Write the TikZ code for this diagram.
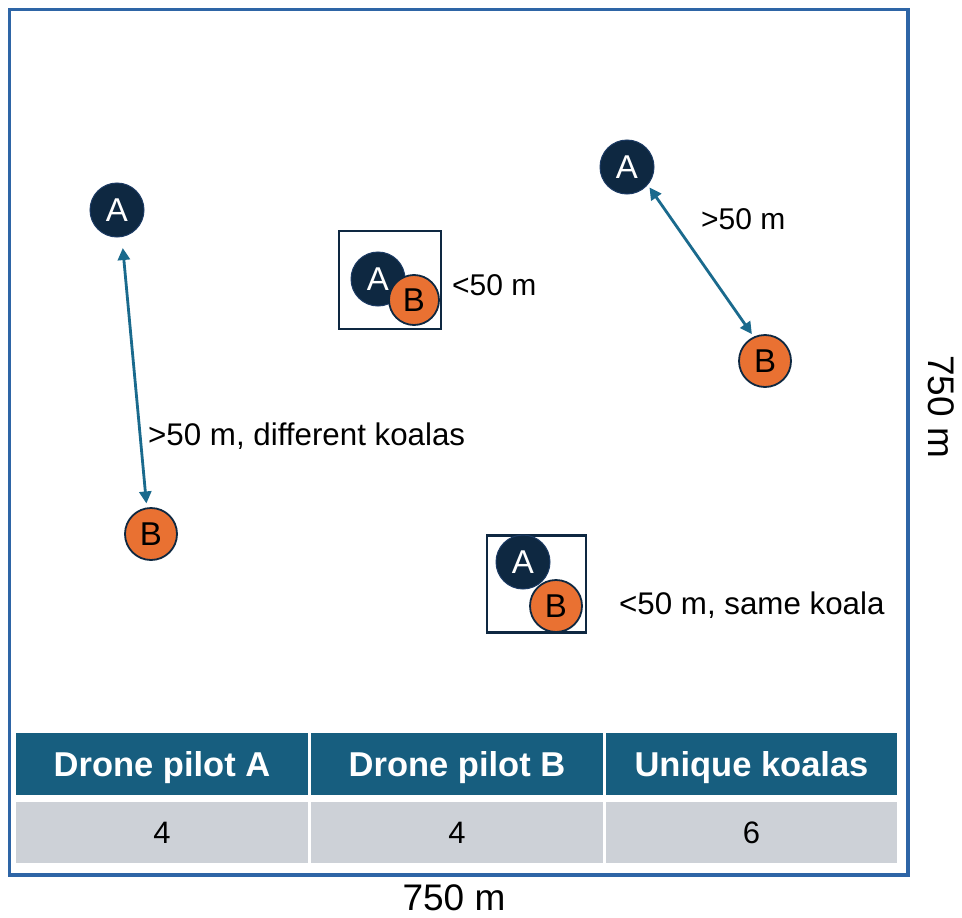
\documentclass[tikz,border=0pt]{standalone}
\usepackage{fontspec}
\setmainfont{Liberation Sans}
\usetikzlibrary{arrows.meta}
\definecolor{navy}{HTML}{0E2841}
\definecolor{navyline}{HTML}{1B3A63}
\definecolor{korange}{HTML}{E97132}
\definecolor{teal}{HTML}{1A6A8D}
\definecolor{hdrblue}{HTML}{175E7F}
\definecolor{rowgray}{HTML}{CDD1D7}
\definecolor{framecol}{HTML}{2E65A6}
\begin{document}
\begin{tikzpicture}[x=1pt,y=-1pt,
  ptA/.style={circle, fill=navy, draw=navyline, line width=1pt, minimum size=54pt, inner sep=0pt,
    text=white, font=\fontsize{33}{33}\selectfont},
  ptB/.style={circle, fill=korange, draw=navy, line width=1.8pt, minimum size=52pt, inner sep=0pt,
    text=black, font=\fontsize{33}{33}\selectfont},
  pairbox/.style={draw=navy, line width=2.6pt, inner sep=0pt},
  lbl/.style={anchor=base west, inner sep=0pt, text=black, font=\fontsize{31.3}{31}\selectfont},
  conn/.style={draw=teal, line width=2.8pt,
    {Triangle[length=12pt,width=12pt]}-{Triangle[length=12pt,width=12pt]}},
  hdr/.style={fill=hdrblue, text=white, font=\bfseries\fontsize{34.5}{34}\selectfont,
    minimum width=292pt, minimum height=62pt, inner sep=0pt, text height=24.5pt, text depth=0pt},
  cell/.style={fill=rowgray, text=black, font=\fontsize{31}{31}\selectfont,
    minimum width=292pt, minimum height=61pt, inner sep=0pt, text height=22.2pt, text depth=0pt},
  dim/.style={inner sep=0pt, anchor=base, text=black, font=\fontsize{37}{37}\selectfont}
]
\useasboundingbox (0,0) rectangle (962,918);
\fill[white] (0,0) rectangle (962,918);

% outer frame
\draw[draw=framecol, line width=3.5pt] (9.5,9.5) rectangle (908,875);

% left pair, far apart
\node[ptA] (A1) at (117,210) {A};
\node[ptB] (B1) at (151,534) {B};
\draw[conn, shorten <=11pt, shorten >=4pt] (A1.-80) -- (B1.99);
\node[lbl] (L1) at (148,445) {>50 m, different koalas};

% top middle pair, close
\node[pairbox, minimum width=102pt, minimum height=98pt] (box1) at (390,280) {};
\node[ptA] (A2) at (378,279) {A};
\node[ptB, minimum size=50pt] (B2) at (414,300) {B};
\node[lbl, font=\fontsize{30}{30}\selectfont] (L2) at (452,295) {<50 m};

% top right pair, far apart
\node[ptA] (A3) at (627,167) {A};
\node[ptB] (B3) at (765,361) {B};
\draw[conn, shorten <=3pt, shorten >=3pt] (A3.-41) -- (B3.115);
\node[lbl, font=\fontsize{30}{30}\selectfont] (L3) at (701,229) {>50 m};

% bottom middle pair, same koala
\node[pairbox, minimum width=99pt, minimum height=97pt] (box2) at (536.5,584) {};
\node[ptA] (A4) at (523,562) {A};
\node[ptB] (B4) at (556,606) {B};
\node[lbl] (L4) at (619,614) {<50 m, same koala};

% table
\node[hdr] (h1) at (162,764) {Drone pilot A};
\node[hdr] (h2) at (457,764) {Drone pilot B};
\node[hdr, minimum width=291pt] (h3) at (751.5,764) {Unique koalas};
\node[cell] (c1) at (162,832.5) {4};
\node[cell] (c2) at (457,832.5) {4};
\node[cell, minimum width=291pt] (c3) at (751.5,832.5) {6};

% dimensions
\node[dim] (dimx) at (454,910) {750 m};
\node[dim, rotate=-90] (dimy) at (928,406.5) {750 m};
\end{tikzpicture}
\end{document}
